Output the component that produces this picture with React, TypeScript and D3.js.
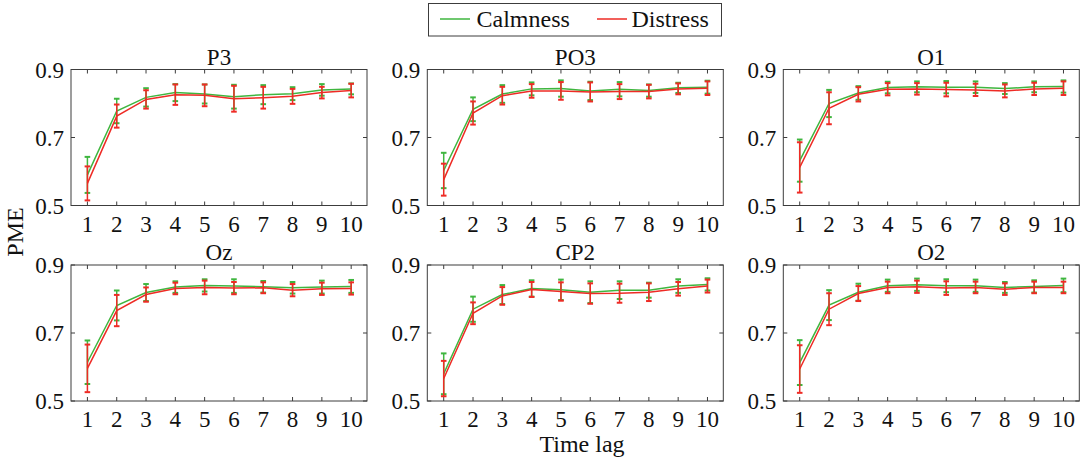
import * as d3 from "d3";

const timeLags = [1, 2, 3, 4, 5, 6, 7, 8, 9, 10];
const yTicks = [0.5, 0.7, 0.9];

// mean values and error (half-width)
const p3Calm = [0.59, 0.778, 0.818, 0.832, 0.828, 0.82, 0.826, 0.829, 0.84, 0.843];
const p3CalmErr = [0.053, 0.036, 0.027, 0.025, 0.028, 0.035, 0.028, 0.019, 0.017, 0.016];
const p3Dist = [0.565, 0.763, 0.812, 0.826, 0.824, 0.814, 0.817, 0.821, 0.832, 0.838];
const p3DistErr = [0.05, 0.034, 0.027, 0.03, 0.032, 0.038, 0.032, 0.022, 0.017, 0.02];

const po3Calm = [0.603, 0.783, 0.828, 0.843, 0.844, 0.837, 0.842, 0.838, 0.846, 0.848];
const po3CalmErr = [0.052, 0.035, 0.026, 0.019, 0.024, 0.027, 0.021, 0.018, 0.015, 0.019];
const po3Dist = [0.576, 0.772, 0.823, 0.837, 0.837, 0.834, 0.835, 0.835, 0.843, 0.845];
const po3DistErr = [0.047, 0.034, 0.026, 0.02, 0.026, 0.028, 0.022, 0.02, 0.016, 0.02];

const o1Calm = [0.632, 0.8, 0.831, 0.847, 0.849, 0.848, 0.848, 0.844, 0.849, 0.85];
const o1CalmErr = [0.062, 0.04, 0.02, 0.017, 0.016, 0.018, 0.017, 0.016, 0.016, 0.018];
const o1Dist = [0.612, 0.786, 0.827, 0.842, 0.843, 0.841, 0.84, 0.837, 0.843, 0.845];
const o1DistErr = [0.074, 0.047, 0.021, 0.018, 0.017, 0.02, 0.018, 0.019, 0.018, 0.02];

const ozCalm = [0.614, 0.781, 0.819, 0.835, 0.84, 0.838, 0.836, 0.833, 0.835, 0.837];
const ozCalmErr = [0.064, 0.044, 0.025, 0.017, 0.018, 0.02, 0.017, 0.017, 0.019, 0.019];
const ozDist = [0.596, 0.766, 0.813, 0.831, 0.834, 0.832, 0.833, 0.826, 0.83, 0.831];
const ozDistErr = [0.07, 0.046, 0.021, 0.017, 0.02, 0.018, 0.016, 0.018, 0.018, 0.018];

const cp2Calm = [0.58, 0.77, 0.813, 0.831, 0.827, 0.82, 0.826, 0.826, 0.838, 0.843];
const cp2CalmErr = [0.06, 0.037, 0.028, 0.024, 0.03, 0.032, 0.026, 0.022, 0.02, 0.018];
const cp2Dist = [0.566, 0.758, 0.809, 0.828, 0.822, 0.816, 0.817, 0.82, 0.83, 0.838];
const cp2DistErr = [0.052, 0.032, 0.026, 0.022, 0.027, 0.03, 0.028, 0.026, 0.02, 0.019];

const o2Calm = [0.613, 0.782, 0.82, 0.839, 0.842, 0.839, 0.839, 0.834, 0.837, 0.84];
const o2CalmErr = [0.066, 0.044, 0.025, 0.018, 0.018, 0.019, 0.018, 0.016, 0.018, 0.02];
const o2Dist = [0.594, 0.77, 0.816, 0.834, 0.836, 0.832, 0.834, 0.829, 0.834, 0.834];
const o2DistErr = [0.07, 0.047, 0.022, 0.017, 0.018, 0.02, 0.017, 0.017, 0.017, 0.017];

const panelTitles = ["P3", "PO3", "O1", "Oz", "CP2", "O2"];
const calmSeries = [p3Calm, po3Calm, o1Calm, ozCalm, cp2Calm, o2Calm];
const calmErrors = [p3CalmErr, po3CalmErr, o1CalmErr, ozCalmErr, cp2CalmErr, o2CalmErr];
const distSeries = [p3Dist, po3Dist, o1Dist, ozDist, cp2Dist, o2Dist];
const distErrors = [p3DistErr, po3DistErr, o1DistErr, ozDistErr, cp2DistErr, o2DistErr];

const GREEN = "#3fb63f";
const RED = "#ee2b25";
const AXIS = "#3c3c3c";
const TXT = { fontFamily: '"Liberation Serif", "Times New Roman", "DejaVu Serif", serif' };

const W = 1081;
const H = 464;
const plotW = 296;
const plotH = 136;
const lefts = [71, 427.3, 783.3];
const tops = [69.5, 265];

function Series({ values, errors, color, x, y }: any) {
  const line = d3
    .line<number>()
    .x((_, i) => x(timeLags[i]))
    .y((d) => y(d));
  const cap = 2.8;
  return (
    <g>
      {values.map((v: number, i: number) => {
        const cx = x(timeLags[i]);
        const y0 = y(v - errors[i]);
        const y1 = y(v + errors[i]);
        return (
          <g key={i} stroke={color}>
            <line x1={cx} x2={cx} y1={y0} y2={y1} strokeWidth={1.5} />
            <line x1={cx - cap} x2={cx + cap} y1={y0} y2={y0} strokeWidth={2} />
            <line x1={cx - cap} x2={cx + cap} y1={y1} y2={y1} strokeWidth={2} />
          </g>
        );
      })}
      <path d={line(values) || ""} fill="none" stroke={color} strokeWidth={1.5} />
    </g>
  );
}

function Panel({ idx }: { idx: number }) {
  const left = lefts[idx % 3];
  const top = tops[Math.floor(idx / 3)];
  const x = d3.scaleLinear().domain([0.44, 10.54]).range([0, plotW]);
  const y = d3.scaleLinear().domain([0.5, 0.9]).range([plotH, 0]);
  const tl = 4;
  return (
    <g transform={`translate(${left},${top})`}>
      <rect x={0} y={0} width={plotW} height={plotH} fill="#fff" />
      {timeLags.map((t) => (
        <g key={t} stroke={AXIS} strokeWidth={1}>
          <line x1={x(t)} x2={x(t)} y1={plotH} y2={plotH - tl} />
          <line x1={x(t)} x2={x(t)} y1={0} y2={tl} />
        </g>
      ))}
      {yTicks.map((t) => (
        <g key={t} stroke={AXIS} strokeWidth={1}>
          <line x1={0} x2={tl} y1={y(t)} y2={y(t)} />
          <line x1={plotW} x2={plotW - tl} y1={y(t)} y2={y(t)} />
        </g>
      ))}
      <Series values={calmSeries[idx]} errors={calmErrors[idx]} color={GREEN} x={x} y={y} />
      <Series values={distSeries[idx]} errors={distErrors[idx]} color={RED} x={x} y={y} />
      <rect x={0} y={0} width={plotW} height={plotH} fill="none" stroke={AXIS} strokeWidth={1} />
      {timeLags.map((t) => (
        <text key={t} x={x(t)} y={plotH + 26} textAnchor="middle" fontSize={23} style={TXT} fill="#111">
          {t}
        </text>
      ))}
      {yTicks.map((t) => (
        <text key={t} x={-7} y={y(t) + 8} textAnchor="end" fontSize={23} style={TXT} fill="#111">
          {d3.format(".1f")(t)}
        </text>
      ))}
      <text x={plotW / 2} y={-5} textAnchor="middle" fontSize={23} style={TXT} fill="#111">
        {panelTitles[idx]}
      </text>
    </g>
  );
}

export default function App() {
  return (
    <svg
      width={W}
      height={H}
      style={{ position: "absolute", left: 0, top: 0, background: "#fff" }}
    >
      <rect width={W} height={H} fill="#fff" />
      {panelTitles.map((_, i) => (
        <Panel key={i} idx={i} />
      ))}
      <g>
        <rect x={428.5} y={3.5} width={293} height={32.5} fill="#fff" stroke={AXIS} strokeWidth={1} />
        <line x1={440} x2={470} y1={19} y2={19} stroke={GREEN} strokeWidth={1.5} />
        <text x={476.5} y={27} fontSize={24} style={TXT} fill="#111">
          Calmness
        </text>
        <line x1={597} x2={627} y1={19} y2={19} stroke={RED} strokeWidth={1.5} />
        <text x={631.5} y={27} fontSize={24} style={TXT} fill="#111">
          Distress
        </text>
      </g>
      <text
        transform="translate(23,232) rotate(-90)"
        textAnchor="middle"
        fontSize={24}
        style={TXT}
        fill="#111"
      >
        PME
      </text>
      <text x={582} y={452} textAnchor="middle" fontSize={24} style={TXT} fill="#111">
        Time lag
      </text>
    </svg>
  );
}
